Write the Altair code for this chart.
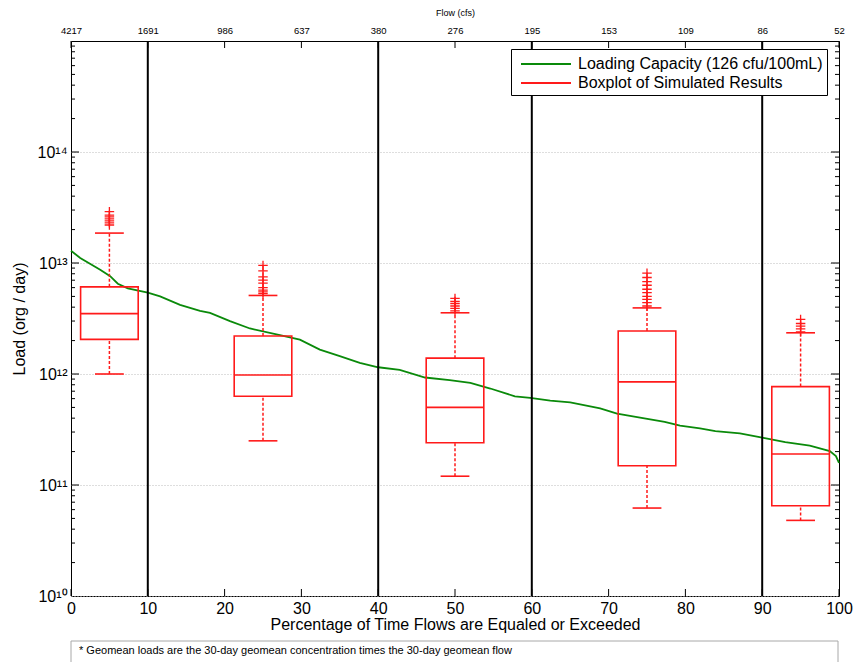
import altair as alt
import pandas as pd

# ---------------- data ----------------
curve_pct = [0, 1.2, 3.8, 5.1, 6.1, 7.4, 10.0, 11.6, 14.2, 16.8, 18.1, 20.7, 23.3, 27.2,
             29.8, 32.4, 35.0, 37.6, 40.0, 42.8, 46.1, 49.3, 52.0, 54.6, 57.8, 59.8, 62.4,
             65.0, 68.9, 71.1, 74.1, 77.3, 79.3, 81.9, 83.9, 87.1, 90.0, 93.0, 96.2, 98.8,
             99.6, 100]
curve_load = [1.29e13, 1.11e13, 8.7e12, 7.6e12, 6.5e12, 5.9e12, 5.4e12, 5.0e12, 4.2e12,
              3.7e12, 3.55e12, 3.0e12, 2.57e12, 2.24e12, 2.04e12, 1.66e12, 1.45e12, 1.26e12,
              1.15e12, 1.09e12, 9.3e11, 8.8e11, 8.3e11, 7.4e11, 6.3e11, 6.1e11, 5.75e11,
              5.56e11, 4.9e11, 4.4e11, 4.04e11, 3.7e11, 3.42e11, 3.24e11, 3.06e11, 2.92e11,
              2.67e11, 2.43e11, 2.26e11, 2.02e11, 1.82e11, 1.58e11]

box_pos = [5, 25, 50, 75, 95]
box_lower = [1.0e12, 2.5e11, 1.2e11, 6.2e10, 4.8e10]
box_q1 = [2.05e12, 6.3e11, 2.4e11, 1.49e11, 6.5e10]
box_median = [3.5e12, 9.8e11, 5.0e11, 8.5e11, 1.9e11]
box_q3 = [6.1e12, 2.2e12, 1.39e12, 2.44e12, 7.7e11]
box_upper = [1.86e13, 5.1e12, 3.56e12, 3.94e12, 2.35e12]

outliers = {
    5: [2.2e13, 2.3e13, 2.4e13, 2.5e13, 2.6e13, 2.7e13, 2.9e13],
    25: [5.3e12, 5.5e12, 5.7e12, 6.0e12, 6.6e12, 7.0e12, 7.5e12, 8.5e12, 9.5e12],
    50: [3.7e12, 3.9e12, 4.1e12, 4.3e12, 4.5e12, 4.8e12],
    75: [4.1e12, 4.4e12, 4.7e12, 5.0e12, 5.4e12, 5.8e12, 6.3e12, 6.8e12, 7.4e12, 8.1e12],
    95: [2.4e12, 2.55e12, 2.7e12, 2.85e12, 3.1e12],
}

pct_ticks = [0, 10, 20, 30, 40, 50, 60, 70, 80, 90, 100]
flow_labels = ["4217", "1691", "986", "637", "380", "276", "195", "153", "109", "86", "52"]
divider_pct = [10, 40, 60, 90]
y_decades = [1e10, 1e11, 1e12, 1e13, 1e14]
y_exponents = [10, 11, 12, 13, 14]

LC = "Loading Capacity (126 cfu/100mL)"
BP = "Boxplot of Simulated Results"
NOTE = "* Geomean loads are the 30-day geomean concentration times the 30-day geomean flow"

# ---------------- style ----------------
W, H = 768, 555
FONT = "Liberation Sans"
RED = "#ff1a1a"
GREEN = "#0a8a0a"
BOX_HALF = 3.75
CAP_HALF = 1.875

xscale = alt.Scale(domain=[0, 100], nice=False, zero=False)
yscale = alt.Scale(type="log", domain=[1e10, 1e15], nice=False)

sup = {"0": "\u2070", "1": "\u00b9", "2": "\u00b2", "3": "\u00b3", "4": "\u2074"}
def sup_str(n):
    return "".join(sup[c] for c in str(n))

y_expr = " : ".join(
    f"round(log(datum.value)/LN10) == {e} ? '10{sup_str(e)}'" for e in y_exponents
) + " : ''"
flow_expr = "[" + ",".join(f"'{s}'" for s in flow_labels) + "][round(datum.value/10)]"

x_bottom_axis = alt.Axis(orient="bottom", values=pct_ticks, format="d",
                         title="Percentage of Time Flows are Equaled or Exceeded",
                         labelFontSize=16, titleFontSize=16, titleFontWeight="normal",
                         labelFont=FONT, titleFont=FONT, labelColor="black", titleColor="black",
                         ticks=False, domain=False, grid=False, labelPadding=4, titlePadding=0,
                         labelFlush=False, labelOverlap=False)
x_top_axis = alt.Axis(orient="top", values=pct_ticks, labelExpr=flow_expr,
                      title="Flow (cfs)", labelFontSize=9.5, titleFontSize=9,
                      titleFontWeight="normal", labelFont=FONT, titleFont=FONT,
                      labelColor="black", titleColor="black",
                      ticks=False, domain=False, grid=False, labelPadding=6, titlePadding=8,
                      labelFlush=False, labelOverlap=False)
y_axis = alt.Axis(orient="left", values=y_decades, labelExpr=y_expr, title="Load (org / day)",
                  labelFontSize=16, titleFontSize=16, titleFontWeight="normal",
                  labelFont=FONT, titleFont=FONT, labelColor="black", titleColor="black",
                  ticks=False, domain=False, grid=True, gridColor="#bdbdbd",
                  gridDash=[1, 2], gridWidth=1, labelPadding=4, titlePadding=10,
                  labelOverlap=False)

color_scale = alt.Scale(domain=[LC, BP], range=[GREEN, RED])

# ---------------- frames ----------------
curve_df = pd.DataFrame({"pct": curve_pct, "load": curve_load, "series": LC})

box_df = pd.DataFrame({"pos": box_pos, "lo": box_lower, "q1": box_q1,
                       "med": box_median, "q3": box_q3, "hi": box_upper})
box_df["left"] = box_df["pos"] - BOX_HALF
box_df["right"] = box_df["pos"] + BOX_HALF
box_df["cl"] = box_df["pos"] - CAP_HALF
box_df["cr"] = box_df["pos"] + CAP_HALF

out_rows = [{"pos": p, "val": v} for p, vals in outliers.items() for v in vals]
out_df = pd.DataFrame(out_rows)

div_df = pd.DataFrame({"pct": divider_pct})
xt_df = pd.DataFrame({"pct": pct_ticks})
ymaj_df = pd.DataFrame({"v": y_decades[1:]})
ymin_df = pd.DataFrame({"v": [m * d for d in y_decades for m in range(2, 10)]})
note_df = pd.DataFrame({"note": [NOTE]})

def X(field):
    return alt.X(f"{field}:Q", scale=xscale, axis=None)

def Y(field):
    # identical axis on every layer so the layers share one merged left axis
    return alt.Y(f"{field}:Q", scale=yscale, axis=y_axis)

# ---------------- layers ----------------
dividers = alt.Chart(div_df).mark_rule(color="black", strokeWidth=2).encode(
    x=alt.X("pct:Q", scale=xscale, axis=x_top_axis))

curve = alt.Chart(curve_df).mark_line(strokeWidth=1.8).encode(
    x=alt.X("pct:Q", scale=xscale, axis=x_bottom_axis),
    y=Y("load"),
    color=alt.Color("series:N", scale=color_scale, legend=alt.Legend(
        orient="none", legendX=440, legendY=8, title=None,
        symbolType="M-0.5,0L4.5,0", symbolSize=400, symbolStrokeWidth=2,
        labelFontSize=16, labelFont=FONT, labelColor="black", labelOffset=41,
        labelLimit=400, rowPadding=0, padding=4, strokeColor="black",
        fillColor="white")))

rects = alt.Chart(box_df).mark_rect(fillOpacity=0, stroke=RED, strokeWidth=1.6).encode(
    x=X("left"), x2="right", y=Y("q1"), y2="q3")
medians = alt.Chart(box_df).mark_rule(color=RED, strokeWidth=1.6).encode(
    x=X("left"), x2="right", y=Y("med"))
whisk_hi = alt.Chart(box_df).mark_rule(color=RED, strokeWidth=1.5, strokeDash=[3, 2]).encode(
    x=X("pos"), y=Y("q3"), y2="hi")
whisk_lo = alt.Chart(box_df).mark_rule(color=RED, strokeWidth=1.5, strokeDash=[3, 2]).encode(
    x=X("pos"), y=Y("lo"), y2="q1")
cap_hi = alt.Chart(box_df).mark_rule(color=RED, strokeWidth=1.6).encode(
    x=X("cl"), x2="cr", y=Y("hi"))
cap_lo = alt.Chart(box_df).mark_rule(color=RED, strokeWidth=1.6).encode(
    x=X("cl"), x2="cr", y=Y("lo"))
outs = alt.Chart(out_df).mark_point(shape="M-1,0L1,0M0,-1L0,1", size=90, filled=False,
                                    color=RED, strokeWidth=1.3, opacity=1).encode(
    x=X("pos"), y=Y("val"))

# inward ticks
xt_bot = alt.Chart(xt_df).mark_rule(color="black").encode(
    x=X("pct"), y=alt.value(H), y2=alt.value(H - 7))
xt_top = alt.Chart(xt_df).mark_rule(color="black").encode(
    x=X("pct"), y=alt.value(0), y2=alt.value(7))
ymaj_l = alt.Chart(ymaj_df).mark_rule(color="black").encode(
    y=Y("v"), x=alt.value(0), x2=alt.value(8))
ymaj_r = alt.Chart(ymaj_df).mark_rule(color="black").encode(
    y=Y("v"), x=alt.value(W), x2=alt.value(W - 8))
ymin_l = alt.Chart(ymin_df).mark_rule(color="black").encode(
    y=Y("v"), x=alt.value(0), x2=alt.value(4))
ymin_r = alt.Chart(ymin_df).mark_rule(color="black").encode(
    y=Y("v"), x=alt.value(W), x2=alt.value(W - 4))

note_box = alt.Chart(note_df).mark_rect(fillOpacity=0, stroke="#a8a8a8", strokeWidth=1).encode(
    x=alt.value(0), x2=alt.value(W - 1), y=alt.value(H + 45), y2=alt.value(H + 80))
note_txt = alt.Chart(note_df).mark_text(align="left", baseline="middle", fontSize=11,
                                        font=FONT, color="black").encode(
    x=alt.value(8), y=alt.value(H + 55), text="note:N")

chart = alt.layer(
    curve, dividers, rects, medians, whisk_hi, whisk_lo, cap_hi, cap_lo, outs,
    xt_bot, xt_top, ymaj_l, ymaj_r, ymin_l, ymin_r, note_box, note_txt
).properties(
    width=W, height=H, autosize="none",
    padding={"left": 71, "top": 41, "right": 14, "bottom": 66},
    background="white",
).configure_view(stroke="black", strokeWidth=1)

chart.save("out.html", embed_options={"renderer": "svg", "actions": False})
